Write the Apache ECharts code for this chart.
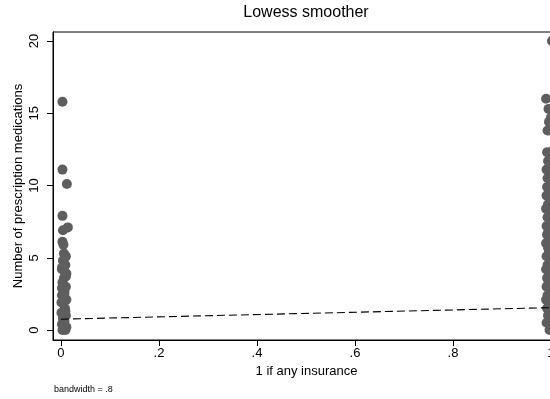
<!DOCTYPE html>
<html>
<head>
<meta charset="utf-8">
<script src="https://cdn.jsdelivr.net/npm/echarts@6/dist/echarts.min.js"></script>
<style>
  html, body { margin: 0; padding: 0; background: #fff; }
  #chart { width: 550px; height: 399px; }
</style>
</head>
<body>
<div id="chart"></div>
<script>
// people without insurance (x = 0, jittered)
const noInsX = [0.003, 0.003, 0.012, 0.003, 0.014, 0.004, 0.003, 0.005,
  0.006, 0.010, 0.004, 0.009, 0.002, 0.011, 0.006, 0.003, 0.010, 0.007, 0.002, 0.011,
  0.005, 0.008, 0.001, 0.010, 0.004, 0.007, 0.002, 0.011, 0.006, 0.003, 0.009, 0.005,
  0.008, 0.002, 0.010, 0.004, 0.007, 0.001, 0.009, 0.005, 0.002, 0.008]
const noInsY = [15.8, 11.1, 10.1, 7.9, 7.1, 6.9, 6.1, 5.9,
  5.3, 5.1, 4.8, 4.5, 4.2, 3.9, 3.6, 3.3, 3.0, 2.7, 2.4, 2.1,
  1.8, 1.5, 1.2, 1.0, 0.8, 0.6, 0.4, 0.2, 0.1, 0.0, 0.0, 0.3,
  5.0, 4.3, 3.7, 3.1, 2.5, 1.9, 1.3, 0.7, 2.9, 4.0]

// people with insurance (x = 1, jittered)
const insX = [1.002, 0.99, 0.995, 1.0, 0.996, 0.993,
  0.992, 0.998, 0.994, 1.001, 0.991, 0.997, 0.993, 1.0, 0.992, 0.996,
  0.991, 0.999, 0.994, 0.990, 0.997, 0.993, 1.0, 0.991, 0.995, 0.992,
  0.998, 0.990, 0.994, 0.996, 0.991, 0.999, 0.993, 0.990, 0.997, 0.992,
  0.995, 0.991, 0.998, 0.993, 0.990, 0.996, 0.992, 0.994, 0.991, 0.997,
  0.999, 1.003, 1.0, 1.004, 1.002, 1.001, 1.003, 1.0, 1.004, 1.002, 1.001, 1.003]
const insY = [20.0, 16.0, 15.3, 14.7, 14.4, 13.8,
  12.3, 12.0, 11.7, 11.4, 11.1, 10.8, 10.5, 10.2, 9.9, 9.6,
  9.3, 9.0, 8.7, 8.4, 8.1, 7.8, 7.5, 7.2, 6.9, 6.6,
  6.3, 6.0, 5.7, 5.4, 5.1, 4.8, 4.5, 4.2, 3.9, 3.6,
  3.3, 3.0, 2.7, 2.4, 2.1, 1.8, 1.5, 1.0, 0.5, 0.0,
  11.9, 10.7, 9.5, 8.3, 7.1, 5.9, 4.7, 3.5, 2.3, 1.2, 0.3, 12.4]

// lowess fit
const lowessX = [0, 1]
const lowessY = [0.75, 1.55]

const xTicks = [0, 0.2, 0.4, 0.6, 0.8, 1]
const xTickLabels = ['0', '.2', '.4', '.6', '.8', '1']
const yTicks = [0, 5, 10, 15, 20]

const pts = noInsX.map((x, i) => [x, noInsY[i]])
  .concat(insX.map((x, i) => [x, insY[i]]))

const font = 'Liberation Sans, Arial, sans-serif'

const chart = echarts.init(document.getElementById('chart'), null, { renderer: 'canvas' })
chart.setOption({
  animation: false,
  backgroundColor: '#fff',
  grid: {
    left: 53, top: 32, width: 507, height: 308,
    outerBoundsMode: 'none', containLabel: false,
    show: true, borderColor: '#000', borderWidth: 1
  },
  graphic: [
    { type: 'text', x: 306, y: 13, style: { text: 'Lowess smoother', font: '16px ' + font, fill: '#000', align: 'center', verticalAlign: 'middle' } },
    { type: 'text', x: 54, y: 390, style: { text: 'bandwidth = .8', font: '9px ' + font, fill: '#000', align: 'left', verticalAlign: 'middle' } }
  ],
  xAxis: {
    type: 'value',
    min: -0.0163,
    max: 1.0184,
    splitLine: { show: false },
    axisLine: { show: true, onZero: false, lineStyle: { color: '#000', width: 1 } },
    axisTick: { show: true, length: 6, customValues: xTicks, lineStyle: { color: '#000' } },
    axisLabel: {
      customValues: xTicks,
      margin: 7,
      color: '#000',
      fontSize: 13,
      fontFamily: font,
      formatter: v => xTickLabels[xTicks.findIndex(t => Math.abs(t - v) < 1e-9)]
    },
    name: '1 if any insurance',
    nameLocation: 'middle',
    nameGap: 25,
    nameMoveOverlap: false,
    nameTextStyle: { color: '#000', fontSize: 13, fontFamily: font }
  },
  yAxis: {
    type: 'value',
    min: -0.69,
    max: 20.62,
    splitLine: { show: false },
    axisLine: { show: true, onZero: false, lineStyle: { color: '#000', width: 1 } },
    axisTick: { show: true, length: 6, customValues: yTicks, lineStyle: { color: '#000' } },
    axisLabel: {
      customValues: yTicks,
      rotate: 90,
      margin: 12,
      color: '#000',
      fontSize: 13,
      fontFamily: font
    },
    name: 'Number of prescription medications',
    nameLocation: 'middle',
    nameGap: 28,
    nameMoveOverlap: false,
    nameTextStyle: { color: '#000', fontSize: 13, fontFamily: font }
  },
  series: [
    {
      type: 'scatter',
      data: pts,
      symbol: 'circle',
      symbolSize: 10,
      itemStyle: { color: '#5e5e5e', opacity: 1 },
      z: 2
    },
    {
      type: 'line',
      data: lowessX.map((x, i) => [x, lowessY[i]]),
      showSymbol: false,
      lineStyle: { color: '#000', width: 1.1, type: [8, 4] },
      z: 3
    }
  ]
})
</script>
</body>
</html>
